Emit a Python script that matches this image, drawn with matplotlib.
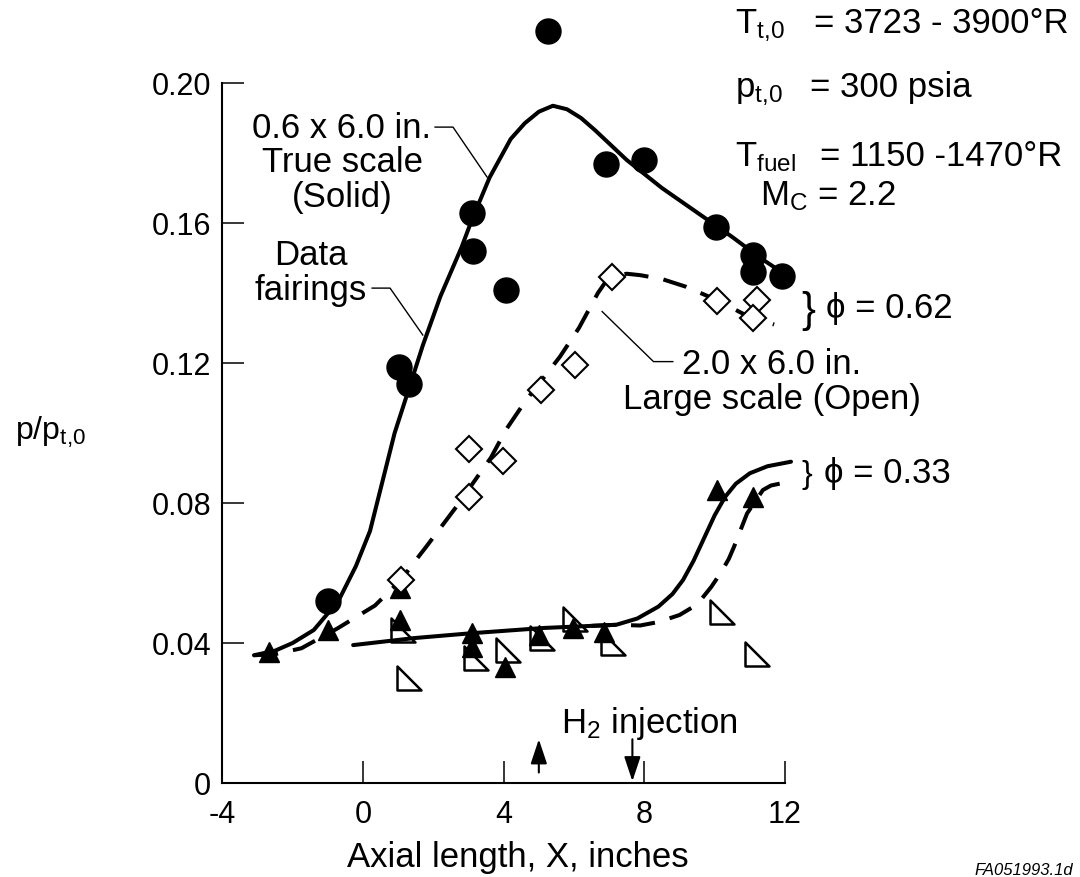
import numpy as np
import matplotlib
matplotlib.use("Agg")
import matplotlib.pyplot as plt
from matplotlib.path import Path

plt.rcParams['font.family'] = ['Liberation Sans', 'DejaVu Sans']
plt.rcParams['mathtext.default'] = 'regular'

# ---------------- data ----------------
# 0.6 x 6.0 in. true scale (solid symbols), phi = 0.62  (filled circles)
circ_x = [-1.0, 1.02, 1.3, 3.1, 3.12, 4.07, 5.26, 6.9, 8.0, 10.05, 11.1, 11.1, 11.9]
circ_y = [0.052, 0.119, 0.114, 0.163, 0.152, 0.141, 0.215, 0.177, 0.178, 0.159, 0.151, 0.146, 0.145]

# 2.0 x 6.0 in. large scale (open symbols), phi = 0.62  (open diamonds)
diam_x = [1.08, 3.01, 3.01, 3.97, 5.05, 6.03, 7.07, 10.06, 11.2, 11.09]
diam_y = [0.058, 0.0954, 0.0817, 0.0921, 0.1123, 0.1194, 0.1447, 0.1378, 0.138, 0.1328]

# true scale, phi = 0.33 (filled triangles)
ftri_x = [-2.68, -1.0, 1.05, 1.05, 3.09, 3.09, 4.05, 5.0, 5.97, 6.84, 10.06, 11.09]
ftri_y = [0.0375, 0.0437, 0.0557, 0.0466, 0.0428, 0.0389, 0.0332, 0.0423, 0.0442, 0.0432, 0.0837, 0.0818]

# large scale, phi = 0.33 (open right triangles)
otri_x = [1.3, 1.13, 3.2, 4.12, 5.1, 6.03, 7.1, 10.22, 11.2]
otri_y = [0.030, 0.0437, 0.0357, 0.038, 0.0414, 0.047, 0.040, 0.049, 0.037]

# data fairings
fair_true_062_x = [-3.1, -2.5, -2.0, -1.4, -0.7, -0.2, 0.2, 0.5, 0.9, 1.35, 1.7, 2.2, 2.8, 3.1,
                   3.6, 4.2, 4.6, 5.0, 5.4, 5.8, 6.2, 6.6, 7.5, 8.5, 9.5, 10.5, 11.3, 11.9]
fair_true_062_y = [0.0365, 0.0378, 0.040, 0.0437, 0.052, 0.062, 0.072, 0.084, 0.100, 0.114, 0.125,
                   0.139, 0.153, 0.161, 0.173, 0.184, 0.1885, 0.1918, 0.1935, 0.1925, 0.1900,
                   0.1865, 0.178, 0.170, 0.163, 0.156, 0.150, 0.146]

fair_large_062_x = [-3.1, -2.5, -1.75, -0.72, 0.34, 1.08, 1.45, 1.79, 2.66, 3.64, 4.07, 4.61, 5.6,
                    6.14, 6.68, 6.9, 7.2, 7.5, 7.88, 8.5, 9.18, 10.06, 10.82, 11.69]
fair_large_062_y = [0.0365, 0.0368, 0.0385, 0.0442, 0.0507, 0.058, 0.063, 0.0674, 0.079, 0.093,
                    0.101, 0.109, 0.1218, 0.130, 0.140, 0.1432, 0.1450, 0.1455, 0.1451, 0.1440,
                    0.1418, 0.138, 0.134, 0.131]

fair_true_033_x = [-0.28, 1.45, 3.09, 5.15, 7.2, 7.8, 8.4, 8.8, 9.1, 9.4, 9.7, 10.0, 10.3, 10.6,
                   11.0, 11.5, 12.17]
fair_true_033_y = [0.0394, 0.0414, 0.0428, 0.0443, 0.0452, 0.047, 0.0504, 0.054, 0.058, 0.0635,
                   0.070, 0.0765, 0.0818, 0.0855, 0.0885, 0.0905, 0.0918]

fair_large_033_x = [6.5, 7.2, 7.88, 8.4, 9.0, 9.5, 9.9, 10.17, 10.4, 10.55, 10.92, 11.37, 11.6, 12.07]
fair_large_033_y = [0.0449, 0.0452, 0.045, 0.046, 0.048, 0.051, 0.056, 0.060, 0.064, 0.0675,
                    0.077, 0.0837, 0.085, 0.086]

# leader lines of the labels
lead_true_x, lead_true_y = [2.05, 2.56, 3.53], [0.1874, 0.1874, 0.1731]
lead_fair_x, lead_fair_y = [0.26, 0.77, 1.70], [0.1414, 0.1414, 0.128]
lead_large_x, lead_large_y = [6.8, 8.26, 8.81], [0.1347, 0.1204, 0.1204]

# H2 injection stations (up arrow, down arrow)
inj_up_x, inj_down_x = 5.0, 7.66

x_ticks = [-4, 0, 4, 8, 12]
x_ticklabels = ['-4', '0', '4', '8', '12']
y_ticks = [0, 0.04, 0.08, 0.12, 0.16, 0.20]
y_ticklabels = ['0', '0.04', '0.08', '0.12', '0.16', '0.20']

# ---------------- figure ----------------
W, H = 1080, 877
fig = plt.figure(figsize=(W / 100, H / 100), dpi=100)
ax = fig.add_axes([0.20583, 0.10718, 0.53082, 0.88597])
ax.set_xlim(-4, 12.3)
ax.set_ylim(0, 0.222)

for s in ['top', 'right']:
    ax.spines[s].set_visible(False)
ax.spines['left'].set_bounds(0, 0.20)
ax.spines['bottom'].set_bounds(-4, 12)
for s in ['left', 'bottom']:
    ax.spines[s].set_linewidth(1.5)

ax.set_xticks(x_ticks)
ax.set_xticklabels(x_ticklabels)
ax.set_yticks(y_ticks)
ax.set_yticklabels(y_ticklabels)
ax.tick_params(axis='both', direction='in', length=16, width=1.1, labelsize=22)
ax.tick_params(axis='x', pad=12)
ax.tick_params(axis='y', pad=8)

lw = 2.9
ax.plot(fair_true_062_x, fair_true_062_y, color='k', lw=lw, zorder=2, clip_on=False,
        solid_capstyle='round', solid_joinstyle='round')
ax.plot(fair_large_062_x, fair_large_062_y, color='k', lw=lw, zorder=2, clip_on=False,
        linestyle=(0, (6, 3.8)))
ax.plot(fair_true_033_x, fair_true_033_y, color='k', lw=lw, zorder=2, clip_on=False,
        solid_capstyle='round', solid_joinstyle='round')
ax.plot(fair_large_033_x, fair_large_033_y, color='k', lw=lw, zorder=2, clip_on=False,
        linestyle=(0, (6, 3.8)))

rtri = Path([(-1, 1), (-1, -1), (1, -1), (-1, 1)],
            [Path.MOVETO, Path.LINETO, Path.LINETO, Path.CLOSEPOLY])
ax.plot(otri_x, otri_y, linestyle='none', marker=rtri, markersize=17,
        markerfacecolor='white', markeredgecolor='k', markeredgewidth=1.8,
        zorder=1.5, clip_on=False)
ax.plot(ftri_x, ftri_y, linestyle='none', marker='^', markersize=14,
        color='k', zorder=4, clip_on=False)
ax.plot(diam_x, diam_y, linestyle='none', marker='D', markersize=13.5,
        markerfacecolor='white', markeredgecolor='k', markeredgewidth=1.5,
        zorder=5, clip_on=False)
ax.plot(circ_x, circ_y, linestyle='none', marker='o', markersize=18,
        color='k', zorder=6, clip_on=False)

for lx, ly in [(lead_true_x, lead_true_y), (lead_fair_x, lead_fair_y),
               (lead_large_x, lead_large_y)]:
    ax.plot(lx, ly, color='k', lw=1.0, zorder=2, clip_on=False)

arrow_kw = dict(arrowstyle='-|>,head_length=0.75,head_width=0.25', lw=1.5, color='k',
                shrinkA=0, shrinkB=0, mutation_scale=20)
ax.annotate('', xy=(inj_up_x, 0.0125), xytext=(inj_up_x, 0.003), arrowprops=arrow_kw,
            annotation_clip=False)
ax.annotate('', xy=(inj_down_x, 0.0005), xytext=(inj_down_x, 0.0125), arrowprops=arrow_kw,
            annotation_clip=False)


def ptext(px, py, s, size=25, ha='left', va='baseline', **kw):
    fig.text(px / W, 1 - py / H, s, fontsize=size, ha=ha, va=va, **kw)


# annotation labels
ptext(342, 138, '0.6 x 6.0 in.', ha='center')
ptext(342, 172, 'True scale', ha='center')
ptext(342, 207, '(Solid)', ha='center')
ptext(311, 265, 'Data', ha='center')
ptext(311, 300, 'fairings', ha='center')
ptext(772, 374, '2.0 x 6.0 in.', ha='center')
ptext(772, 409, 'Large scale (Open)', ha='center')

ptext(801, 322, '}', size=30, fontweight='light')
ptext(826, 318, '\u03d5 = 0.62', size=25)
ptext(801, 483, '}', size=23, fontweight='light')
ptext(824, 483, '\u03d5 = 0.33', size=25)

ptext(561, 733, 'H$_2$ injection', size=25)

# conditions
ptext(735, 33, 'T$_{t,\\!0}$', size=25)
ptext(814, 33, '= 3723 - 3900°R', size=25)
ptext(735, 97, 'p$_{t,\\!0}$', size=25)
ptext(810, 97, '= 300 psia', size=25)
ptext(735, 166, 'T$_{fuel}$', size=25)
ptext(820, 166, '= 1150 -1470°R', size=25)
ptext(760, 205, 'M$_C$ = 2.2', size=25)

# axis labels
ptext(15, 440, 'p/p$_{t,\\!0}$', size=23)
ptext(518, 857, 'Axial length, X, inches', size=25, ha='center', va='center')
ptext(1073, 875, 'FA051993.1d', size=12, ha='right', fontstyle='italic')

fig.savefig('out.png', dpi=100)
